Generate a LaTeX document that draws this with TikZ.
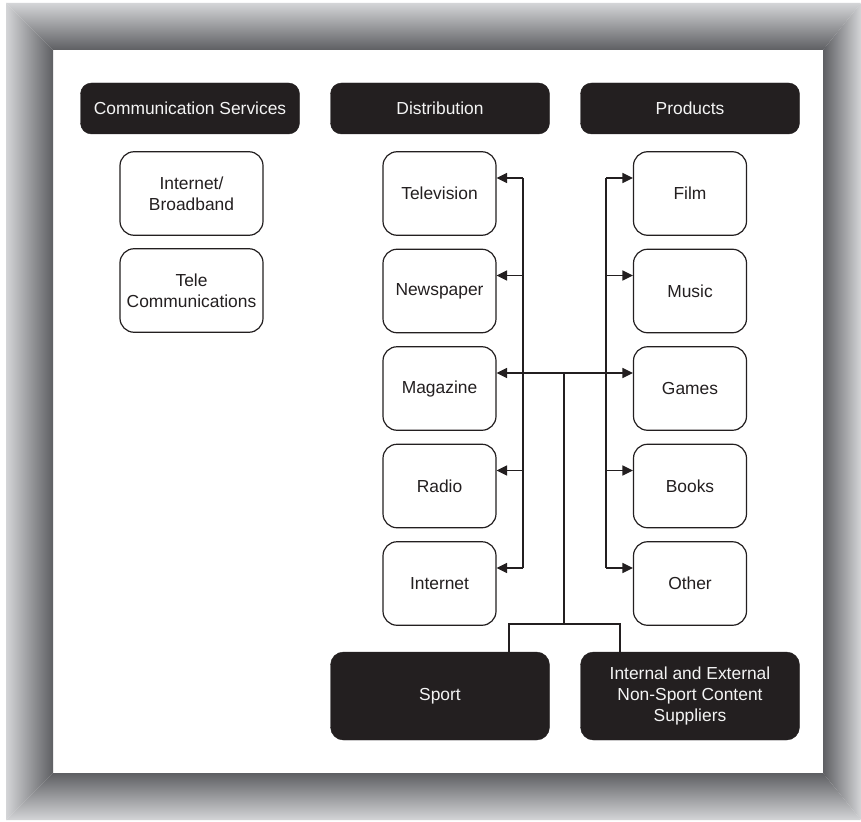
\documentclass[tikz,border=0pt]{standalone}
\usepackage{fontspec}
\setmainfont{Liberation Sans}
\usetikzlibrary{arrows.meta}
\definecolor{ink}{HTML}{231F20}
\definecolor{paperink}{HTML}{F4F4F4}
\definecolor{frameout}{HTML}{D4D5D7}
\definecolor{framein}{HTML}{5E5F63}

\begin{document}
\begin{tikzpicture}[x=1pt,y=-1pt,
  lbl/.style={font=\fontsize{17.4}{20.8}\selectfont, align=center, inner sep=0pt},
  head/.style={lbl, fill=ink, draw=ink, rounded corners=11pt, text=paperink,
    minimum width=219pt, minimum height=51pt},
  foot/.style={head, minimum height=88pt, rounded corners=13pt},
  item/.style={lbl, draw=ink, line width=1.2pt, fill=white, rounded corners=14pt,
    text=ink, minimum width=113pt, minimum height=83.5pt},
  wide/.style={item, minimum width=143pt},
  link/.style={draw=ink, line width=1.4pt},
  tip/.tip={Triangle[length=10.5pt,width=10pt]},
  arr/.style={link, -tip},
]
\useasboundingbox (0,0) rectangle (861,821);
\fill[white] (0,0) rectangle (861,821);

% bevelled grey frame
\shade[top color=frameout, bottom color=framein]
  (6,3) -- (861,3) -- (823,50) -- (53,50) -- cycle;
\shade[left color=frameout, right color=framein]
  (6,3) -- (53,50) -- (53,773) -- (6,820) -- cycle;
\shade[left color=framein, right color=frameout]
  (861,3) -- (861,820) -- (823,773) -- (823,50) -- cycle;
\shade[top color=framein, bottom color=frameout]
  (6,820) -- (53,773) -- (823,773) -- (861,820) -- cycle;

% column headers
\node[head] (cs)   at (190,108.5) {Communication Services};
\node[head] (dist) at (440,108.5) {Distribution};
\node[head] (prod) at (690,108.5) {Products};

% communication services
\node[wide] (ib) at (191.5,193.5) {Internet/\\Broadband};
\node[wide] (tc) at (191.5,290.5) {Tele\\Communications};

% distribution channels
\node[item] (tv) at (439.5,193.5) {Television};
\node[item] (np) at (439.5,291)   {Newspaper};
\node[item] (mg) at (439.5,388.5) {Magazine};
\node[item] (rd) at (439.5,486)   {Radio};
\node[item] (in) at (439.5,583.5) {Internet};

% products
\node[item] (fi) at (690,193.5) {Film};
\node[item] (mu) at (690,291)   {Music};
\node[item] (ga) at (690,388.5) {Games};
\node[item] (bo) at (690,486)   {Books};
\node[item] (ot) at (690,583.5) {Other};

% content sources
\node[foot] (sp) at (440,696) {Sport};
\node[foot] (su) at (690,696) {Internal and External\\Non-Sport Content\\Suppliers};

% arrow attachment points
\foreach \n in {tv,np,mg,rd,in} \coordinate (\n-p) at ([yshift=15.5pt]\n.east);
\foreach \n in {fi,mu,ga,bo,ot} \coordinate (\n-p) at ([yshift=15.5pt]\n.west);

% trunk lines
\coordinate (L) at (523,0);
\coordinate (R) at (606,0);
\coordinate (M) at (564,0);
\coordinate (J) at (564,624);
\coordinate (sj) at (509,624);
\coordinate (uj) at (620,624);

\draw[link] (L |- tv-p) -- (L |- in-p);
\draw[link] (R |- fi-p) -- (R |- ot-p);
\foreach \n in {tv,np,rd,in} \draw[arr] (L |- \n-p) -- (\n-p);
\foreach \n in {fi,mu,bo,ot} \draw[arr] (R |- \n-p) -- (\n-p);
\draw[link, tip-tip] (mg-p) -- (ga-p);

\draw[link] (M |- mg-p) -- (J);
\draw[link] (sp.north -| sj) -- (sj) -- (uj) -- (su.north -| uj);
\end{tikzpicture}
\end{document}
